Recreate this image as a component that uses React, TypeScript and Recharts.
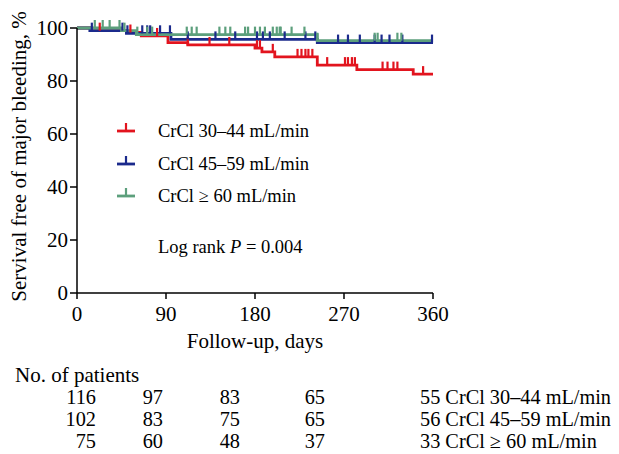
import React from 'react';
import { ComposedChart, Line, Scatter, XAxis, YAxis } from 'recharts';

// Kaplan-Meier steps (day, % free of bleeding)
const redTimes = [0, 15, 50, 65, 92, 112, 180, 187, 200, 243, 283, 340, 360];
const redSurv = [100, 99, 98.3, 97, 94.5, 93.6, 92.4, 91, 89.1, 86, 84.3, 82.6, 82.6];
const redCensored = [23, 54, 81, 112, 134, 154, 182, 185, 198, 223, 227, 231, 234, 238, 253, 271, 274, 278, 281, 309, 314, 320, 324, 350];

const blueTimes = [0, 13, 50, 95, 243, 360];
const blueSurv = [100, 99, 98, 95.7, 94.5, 94.5];
const blueCensored = [15, 46, 51, 66, 71, 74, 84, 94, 112, 140, 160, 182, 188, 195, 210, 231, 241, 264, 274, 286, 301, 308, 316, 329, 359];

const greenTimes = [0, 45, 60, 243, 360];
const greenSurv = [100, 99, 97.5, 95.2, 95.2];
const greenCensored = [18, 26, 33, 43, 48, 61, 71, 76, 111, 116, 121, 144, 150, 155, 170, 173, 180, 185, 190, 198, 202, 205, 206, 217, 230, 243, 301, 304, 324, 328];

const xTicks = [0, 90, 180, 270, 360];
const yTicks = [0, 20, 40, 60, 80, 100];

const seriesNames = ['CrCl 30\u201344 mL/min', 'CrCl 45\u201359 mL/min', 'CrCl \u2265 60 mL/min'];
const redAtRisk = [116, 97, 83, 65, 55];
const blueAtRisk = [102, 83, 75, 65, 56];
const greenAtRisk = [75, 60, 48, 37, 33];

const RED = '#e2141e';
const BLUE = '#1b2a8c';
const GREEN = '#5c9f7c';
const FONT = '"Liberation Serif", "Times New Roman", serif';

const steps = (times: number[], surv: number[]) => times.map((t, i) => ({ day: t, surv: surv[i] }));

const valueAt = (times: number[], surv: number[], d: number) => {
  let v = surv[0];
  for (let i = 0; i < times.length; i++) if (times[i] <= d) v = surv[i];
  return v;
};

const marks = (days: number[], times: number[], surv: number[]) =>
  days.map((d) => ({ day: d, surv: valueAt(times, surv, d) }));

const tickShape = (color: string) => (props: any) => (
  <line x1={props.cx} x2={props.cx} y1={props.cy} y2={props.cy - 8} stroke={color} strokeWidth={2.2} />
);

const series = [
  { name: seriesNames[0], color: RED, times: redTimes, surv: redSurv, cens: redCensored, risk: redAtRisk },
  { name: seriesNames[1], color: BLUE, times: blueTimes, surv: blueSurv, cens: blueCensored, risk: blueAtRisk },
  { name: seriesNames[2], color: GREEN, times: greenTimes, surv: greenSurv, cens: greenCensored, risk: greenAtRisk },
];

const colRight = [88, 155, 232, 317];

export default function App() {
  return (
    <div style={{ position: 'relative', width: 611, height: 446, fontFamily: FONT, color: '#000' }}>
      <ComposedChart width={611} height={446} margin={{ top: 20, right: 186, left: 0, bottom: 101 }}>
        <XAxis
          type="number"
          dataKey="day"
          domain={[0, 360]}
          ticks={xTicks}
          height={60}
          tickSize={6}
          tickMargin={7}
          stroke="#000"
          strokeWidth={1.5}
          tick={{ fill: '#000', fontSize: 21, fontFamily: FONT }}
          label={(p: any) => (
            <text x={p.viewBox.x + p.viewBox.width / 2} y={p.viewBox.y + 55} textAnchor="middle" fontSize={21} fontFamily={FONT} fill="#000">
              Follow-up, days
            </text>
          )}
        />
        <YAxis
          type="number"
          dataKey="surv"
          domain={[0, 100]}
          ticks={yTicks}
          width={69}
          tickSize={7}
          tickMargin={2}
          stroke="#000"
          strokeWidth={1.5}
          tick={{ fill: '#000', fontSize: 21, fontFamily: FONT }}
          label={(p: any) => (
            <text
              x={11}
              y={p.viewBox.y + p.viewBox.height / 2 - 4}
              transform={`rotate(-90 11 ${p.viewBox.y + p.viewBox.height / 2 - 4})`}
              textAnchor="middle"
              dominantBaseline="central"
              fontSize={21}
              fontFamily={FONT}
              fill="#000"
            >
              Servival free of major bleeding, %
            </text>
          )}
        />
        {series.map((s) => (
          <Line
            key={s.name}
            data={steps(s.times, s.surv)}
            dataKey="surv"
            type="stepAfter"
            stroke={s.color}
            strokeWidth={2.8}
            dot={false}
            isAnimationActive={false}
          />
        ))}
        {series.map((s) => (
          <Scatter
            key={s.name + '-c'}
            data={marks(s.cens, s.times, s.surv)}
            dataKey="surv"
            shape={tickShape(s.color)}
            isAnimationActive={false}
          />
        ))}
      </ComposedChart>

      {series.map((s, r) => (
        <div
          key={s.name + '-l'}
          style={{ position: 'absolute', left: 109, top: 109 + r * 32.5, height: 28, display: 'flex', alignItems: 'center', fontSize: 18.5, lineHeight: '28px', whiteSpace: 'nowrap' }}
        >
          <svg width={41} height={28} style={{ display: 'block' }}>
            <line x1={0} x2={18} y1={14} y2={14} stroke={s.color} strokeWidth={2.8} />
            <line x1={9} x2={9} y1={14} y2={6} stroke={s.color} strokeWidth={2.2} />
          </svg>
          <span>{s.name}</span>
        </div>
      ))}
      <div style={{ position: 'absolute', left: 150, top: 225, fontSize: 18.5, lineHeight: '28px', whiteSpace: 'nowrap' }}>
        Log rank <i>P</i> = 0.004
      </div>

      <div style={{ position: 'absolute', left: 7, top: 356, fontSize: 21, lineHeight: '22px', whiteSpace: 'nowrap' }}>
        No. of patients
      </div>
      {series.map((s, r) => (
        <div key={s.name + '-r'} style={{ position: 'absolute', left: 0, top: 378 + r * 22, height: 22, width: 611, fontSize: 20.3, lineHeight: '22px' }}>
          {s.risk.slice(0, 4).map((n, c) => (
            <span key={c} style={{ position: 'absolute', right: 611 - colRight[c] }}>{n}</span>
          ))}
          <span style={{ position: 'absolute', left: 412, whiteSpace: 'nowrap' }}>
            {s.risk[4]} {s.name}
          </span>
        </div>
      ))}
    </div>
  );
}
